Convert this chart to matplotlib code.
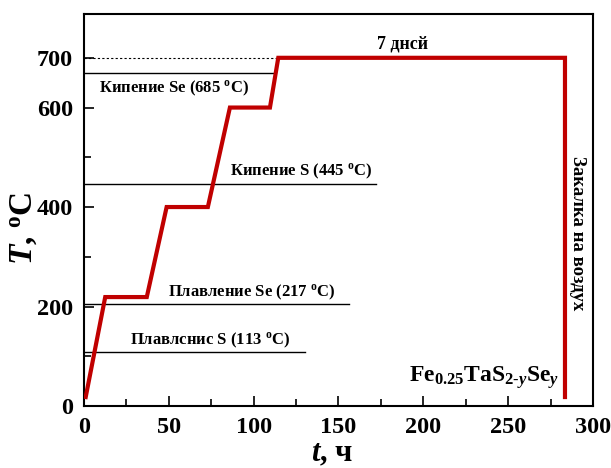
import matplotlib

matplotlib.use("Agg")
import matplotlib.pyplot as plt
from matplotlib.ticker import MultipleLocator

plt.rcParams["font.family"] = ["Liberation Serif", "DejaVu Serif"]
plt.rcParams["font.weight"] = "bold"
plt.rcParams["mathtext.fontset"] = "custom"
plt.rcParams["mathtext.rm"] = "Liberation Serif:bold"
plt.rcParams["mathtext.it"] = "Liberation Serif:italic:bold"
plt.rcParams["mathtext.bf"] = "Liberation Serif:bold"

# heating profile
t_hours = [1, 12.5, 37, 48.7, 73, 86, 109.6, 114.5, 283.5, 283.5]
temp_c = [18, 219, 219, 400, 400, 600, 600, 700, 700, 18]

# reference levels: (temperature, end time, label, text t, text T, ha)
level_temp = [670, 446, 206, 109]
level_end = [112.5, 172, 156, 130]
level_text = ["Кипение Se (685 $^{\\rm o}$C)", "Кипение S (445 $^{\\rm o}$C)",
              "Плавление Se (217 $^{\\rm o}$C)", "Плавлснис S (113 $^{\\rm o}$C)"]
text_t = [9, 170, 49.5, 27]
text_T = [638, 472, 228, 132]
text_ha = ["left", "right", "left", "left"]

fig = plt.figure(figsize=(6.11, 4.68), dpi=100)
ax = fig.add_axes([0.1375, 0.1325, 0.833, 0.8375])

ax.plot(t_hours, temp_c, color="#c00000", lw=3, solid_joinstyle="miter", zorder=3)
ax.plot([0, t_hours[7]], [700, 700], color="black", lw=0.8, ls=(0, (2, 2)), zorder=2)
for T, tend, lab, tx, ty, ha in zip(level_temp, level_end, level_text, text_t, text_T, text_ha):
    ax.plot([0, tend], [T, T], color="black", lw=1, zorder=2)
    ax.text(tx, ty, lab, ha=ha, va="center", fontsize=12, fontweight="bold")

ax.text(188, 727, "7 днсй", ha="center", va="center", fontsize=13, fontweight="bold")
ax.text(291, 347, "Закалка на воздух", rotation=-90, ha="center", va="center",
        fontsize=13.5, fontweight="bold")
ax.text(280, 58, "Fe$_{0.25}$TaS$_{2\\text{-}y}$Se$_{y}$", ha="right", va="center",
        fontsize=17, fontweight="bold")

ax.set_xlim(0, 300)
ax.set_ylim(0, 788)
ax.set_yticks([0, 200, 400, 600, 700])
ax.xaxis.set_major_locator(MultipleLocator(50))
ax.xaxis.set_minor_locator(MultipleLocator(25))
ax.yaxis.set_minor_locator(MultipleLocator(100))
ax.tick_params(which="both", direction="in", labelsize=17.5, width=1.2, pad=8)
ax.tick_params(which="major", length=7)
ax.tick_params(which="minor", length=5)
for lab in ax.get_xticklabels() + ax.get_yticklabels():
    lab.set_fontweight("bold")
for s in ax.spines.values():
    s.set_linewidth(1.5)

ax.set_xlabel("$t$, ч", fontsize=22, fontweight="bold", va="center")
ax.set_ylabel("$T$, $^{\\rm o}$C", fontsize=24, fontweight="bold")
ax.xaxis.set_label_coords(0.487, -0.122)
ax.yaxis.set_label_coords(-0.088, 0.454)

fig.savefig("out.png", dpi=100)
